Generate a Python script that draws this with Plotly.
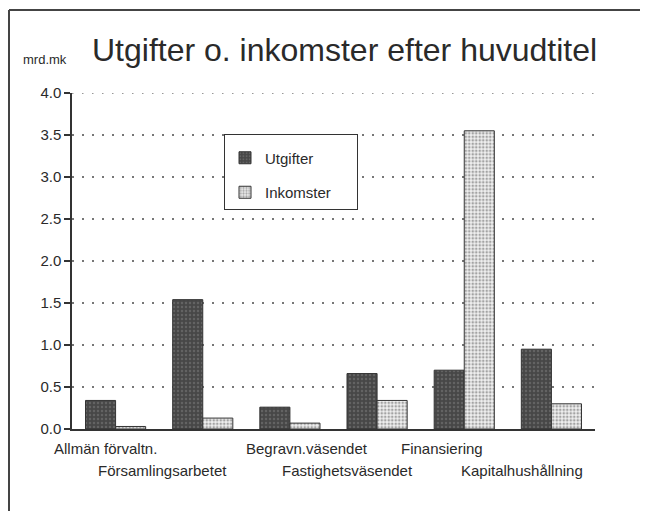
import plotly.graph_objects as go

# ---- data ----
categories = ["Allmän förvaltn.", "Församlingsarbetet", "Begravn.väsendet",
              "Fastighetsväsendet", "Finansiering", "Kapitalhushållning"]
utgifter = [0.34, 1.54, 0.26, 0.66, 0.70, 0.95]
inkomster = [0.03, 0.13, 0.07, 0.34, 3.55, 0.30]
y_ticks = [0.0, 0.5, 1.0, 1.5, 2.0, 2.5, 3.0, 3.5, 4.0]

# ---- layout geometry (page pixels; the page body has an 8px margin) ----
OFF = 8
W, H = 648 - OFF, 511 - OFF
L, R, T, B = 72 - OFF, 53, 93 - OFF, 82
PW, PH = W - L - R, H - T - B


def px(x):  # page pixel -> paper fraction
    return (x - OFF - L) / PW


def py(y):
    return (H - B - (y - OFF)) / PH


FONT = "Liberation Sans, Arial, Helvetica, sans-serif"
TXT = "#2a2a2a"
GRID_DASH = "1.5px,8.5px"

fig = go.Figure()
fig.add_trace(go.Bar(
    x=categories, y=utgifter, name="Utgifter", legendgroup="a",
    marker=dict(color="#4a4a4a", line=dict(color="#333", width=1),
                pattern=dict(shape=".", bgcolor="#474747", fgcolor="#7d7d7d",
                             size=4, solidity=0.3)),
))
fig.add_trace(go.Bar(
    x=categories, y=inkomster, name="Inkomster", legendgroup="b",
    marker=dict(color="#eeeeee", line=dict(color="#333", width=1),
                pattern=dict(shape=".", bgcolor="#f0f0f0", fgcolor="#555",
                             size=3.5, solidity=0.45)),
))

annotations = [
    dict(text="Utgifter o. inkomster efter huvudtitel", x=px(344), y=py(50),
         xref="paper", yref="paper", xanchor="center", yanchor="middle",
         showarrow=False, font=dict(family=FONT, size=32, color=TXT)),
    dict(text="mrd.mk", x=px(21), y=py(60), xref="paper", yref="paper",
         xanchor="left", yanchor="middle", showarrow=False,
         font=dict(family=FONT, size=13, color=TXT)),
]
label_x = [105, 162, 307, 347, 442, 522]
label_y = [448, 470]
for i, c in enumerate(categories):
    annotations.append(dict(
        text=c, x=px(label_x[i]), y=py(label_y[i % 2]), xref="paper", yref="paper",
        xanchor="center", yanchor="middle", showarrow=False,
        font=dict(family=FONT, size=15, color=TXT)))

shapes = [
    dict(type="line", xref="paper", yref="paper", x0=px(9), x1=px(9),
         y0=py(520), y1=py(10), line=dict(color="#444", width=2)),
    dict(type="line", xref="paper", yref="paper", x0=px(9), x1=px(660),
         y0=py(10), y1=py(10), line=dict(color="#444", width=2)),
    # top gridline at the axis maximum (plotly omits the edge gridline)
    dict(type="line", xref="paper", yref="y", x0=0, x1=1, y0=y_ticks[-1], y1=y_ticks[-1],
         line=dict(color="#777", width=1.5, dash=GRID_DASH), layer="below"),
]

fig.update_layout(
    width=W, height=H,
    margin=dict(l=L, r=R, t=T, b=B, autoexpand=False),
    paper_bgcolor="white", plot_bgcolor="white",
    barmode="group", bargap=0.31, bargroupgap=0,
    font=dict(family=FONT, color=TXT),
    showlegend=True,
    legend=dict(x=px(224), y=py(134), xanchor="left", yanchor="top",
                bordercolor="#333", borderwidth=1, bgcolor="white",
                font=dict(family=FONT, size=15, color=TXT),
                title=dict(text="&nbsp;" * 92, font=dict(size=5)),
                tracegroupgap=12, itemwidth=30,
                traceorder="grouped"),
    annotations=annotations,
    shapes=shapes,
    xaxis=dict(range=[-0.5, 5.5], showline=True, linecolor="#333", linewidth=1.5,
               showticklabels=False, ticks="", showgrid=False, zeroline=False,
               fixedrange=True),
    yaxis=dict(range=[0, 4], tickvals=y_ticks, tickformat=".1f",
               showline=True, linecolor="#333", linewidth=1.5,
               ticks="outside", ticklen=6, tickcolor="#333", tickwidth=1.5,
               tickfont=dict(family=FONT, size=15, color=TXT),
               showgrid=True, gridcolor="#777", gridwidth=1.5, griddash=GRID_DASH,
               zeroline=False, fixedrange=True),
)

fig.write_html("out.html")
